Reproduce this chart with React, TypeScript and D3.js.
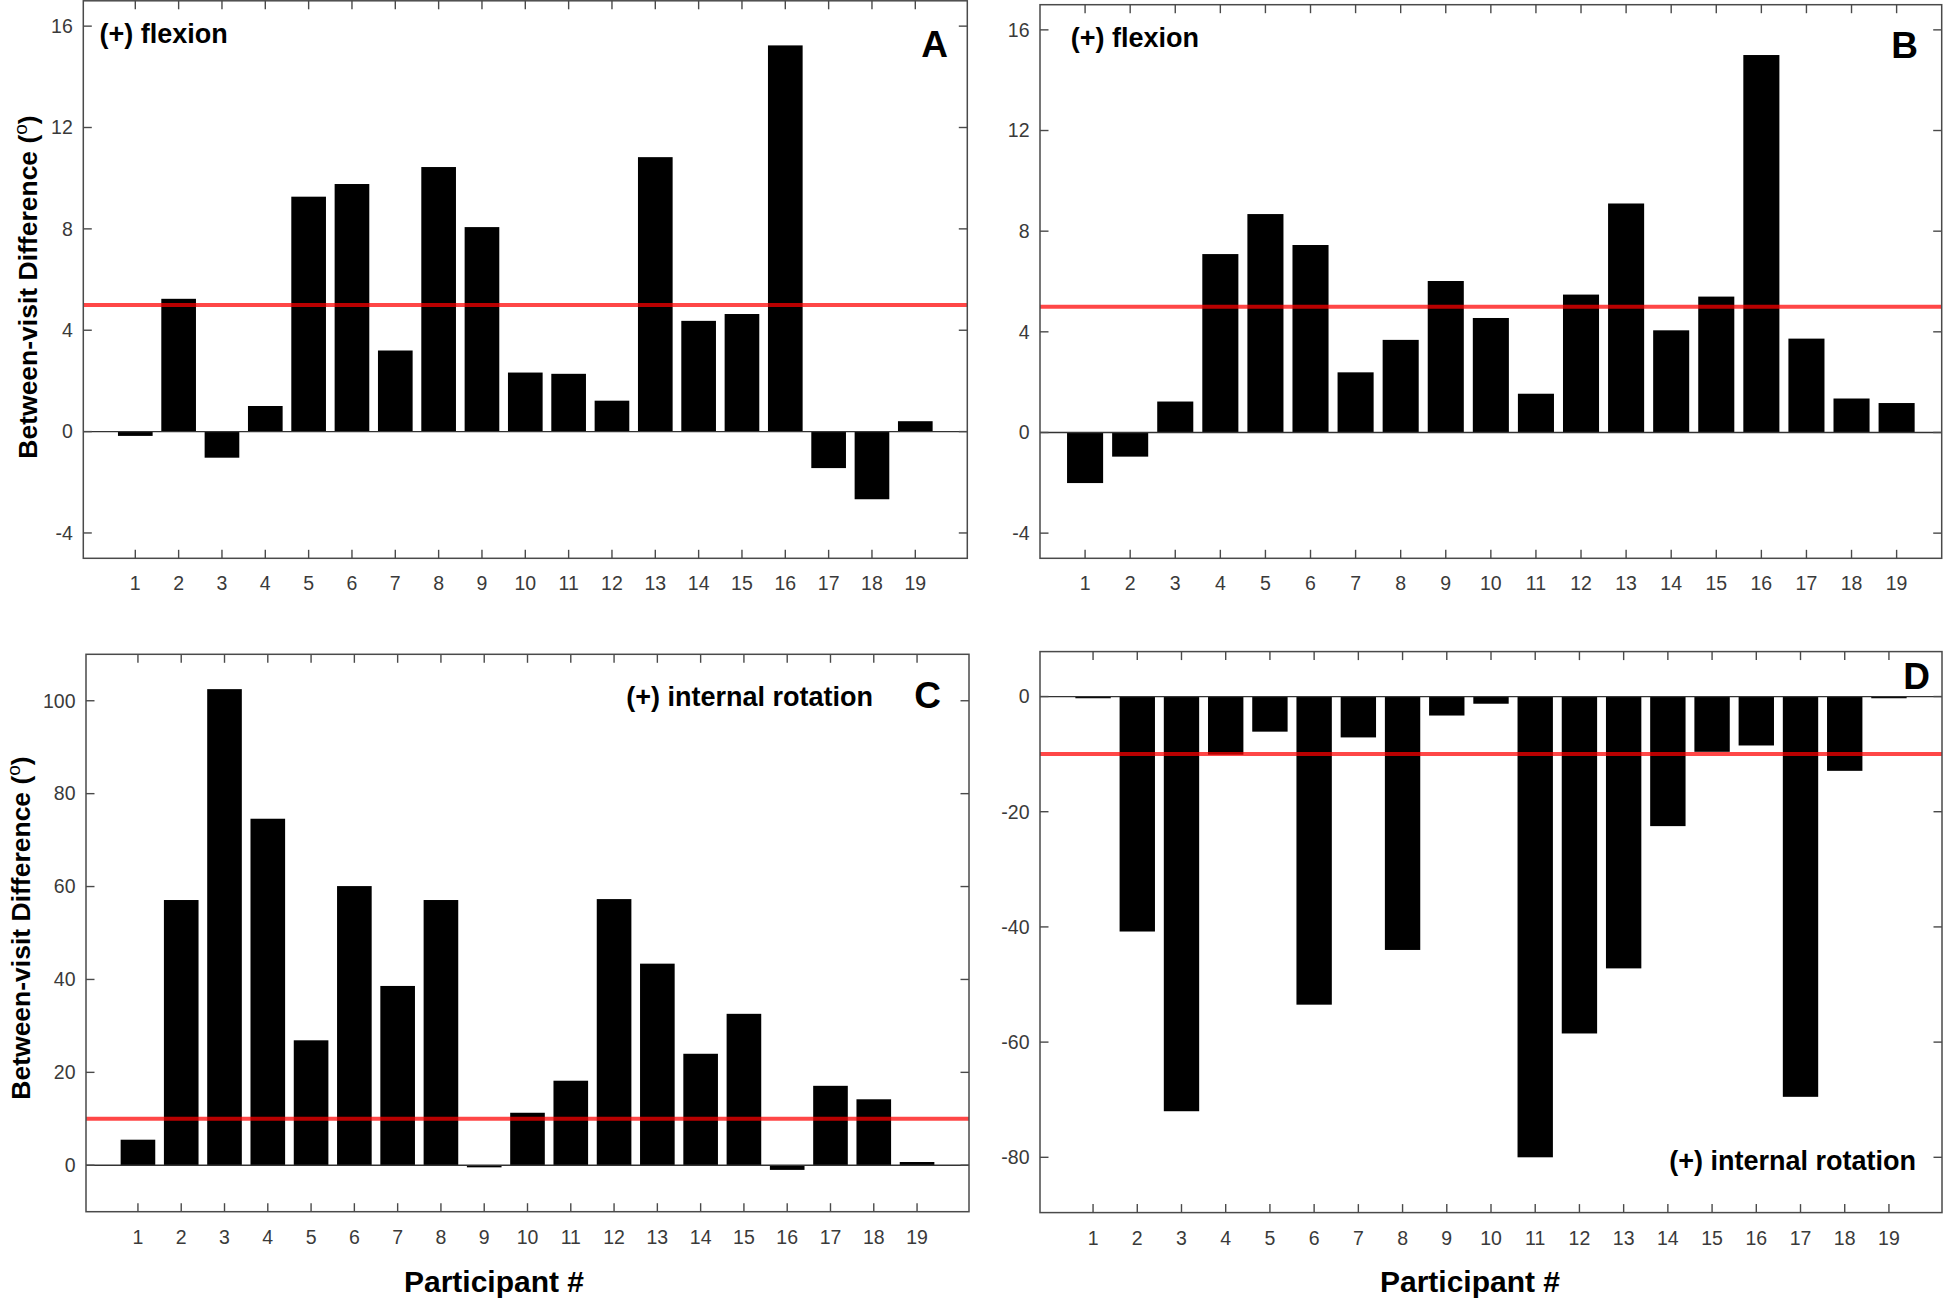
import React from "react";
import * as d3 from "d3";

// participant numbers on the x axis
const participants = [1, 2, 3, 4, 5, 6, 7, 8, 9, 10, 11, 12, 13, 14, 15, 16, 17, 18, 19];

// between-visit differences (degrees)
const flexionA = [-0.17, 5.24, -1.03, 1.01, 9.27, 9.77, 3.2, 10.44, 8.07, 2.33, 2.28, 1.22, 10.83, 4.37, 4.64, 15.24, -1.44, -2.67, 0.41];
const flexionB = [-2.01, -0.96, 1.23, 7.09, 8.68, 7.45, 2.39, 3.68, 6.02, 4.55, 1.54, 5.48, 9.1, 4.06, 5.4, 15.0, 3.73, 1.35, 1.17];
const rotationC = [5.5, 57.1, 102.5, 74.6, 26.9, 60.1, 38.6, 57.1, -0.45, 11.3, 18.2, 57.3, 43.4, 24.0, 32.6, -1.0, 17.1, 14.2, 0.7];
const rotationD = [-0.3, -40.8, -72.0, -10.1, -6.1, -53.5, -7.1, -44.0, -3.3, -1.25, -80.0, -58.5, -47.2, -22.5, -9.6, -8.5, -69.5, -12.9, -0.3];

const flexionTicks = [-4, 0, 4, 8, 12, 16];
const rotationCTicks = [0, 20, 40, 60, 80, 100];
const rotationDTicks = [-80, -60, -40, -20, 0];

const FONT = "'Liberation Sans', Arial, Helvetica, sans-serif";
const AXIS = "#4a4a4a";
const TICKTXT = "#3a3a3a";

type Box = { l: number; r: number; t: number; b: number };

function Panel({ box, xDomain, yDomain, yTicks, values, threshold, letter, letterPos, note, notePos, noteAnchor }: any) {
  const x = d3.scaleLinear().domain(xDomain).range([box.l, box.r]);
  const y = d3.scaleLinear().domain(yDomain).range([box.b, box.t]);
  const bw = (x(2) - x(1)) * 0.8;
  const tick = 8.5;

  return (
    <g>
      {/* bars */}
      {values.map((v: number, i: number) => (
        <rect
          key={i}
          x={x(participants[i]) - bw / 2}
          y={Math.min(y(v), y(0))}
          width={bw}
          height={Math.abs(y(v) - y(0))}
          fill="#000"
        />
      ))}
      {/* baseline */}
      <line x1={box.l} x2={box.r} y1={y(0)} y2={y(0)} stroke="#333" strokeWidth={1.3} />
      {/* threshold */}
      <line x1={box.l} x2={box.r} y1={y(threshold)} y2={y(threshold)} stroke="#ff0000" strokeOpacity={0.72} strokeWidth={4} />
      {/* box */}
      <rect x={box.l} y={box.t} width={box.r - box.l} height={box.b - box.t} fill="none" stroke={AXIS} strokeWidth={1.5} />
      {/* y ticks */}
      {yTicks.map((t: number) => (
        <g key={t}>
          <line x1={box.l} x2={box.l + tick} y1={y(t)} y2={y(t)} stroke={AXIS} strokeWidth={1.4} />
          <line x1={box.r} x2={box.r - tick} y1={y(t)} y2={y(t)} stroke={AXIS} strokeWidth={1.4} />
          <text x={box.l - 10.5} y={y(t)} dy="0.35em" textAnchor="end" fontSize={19.5} fontFamily={FONT} fill={TICKTXT}>
            {t}
          </text>
        </g>
      ))}
      {/* x ticks */}
      {participants.map((p) => (
        <g key={p}>
          <line x1={x(p)} x2={x(p)} y1={box.b} y2={box.b - tick} stroke={AXIS} strokeWidth={1.4} />
          <line x1={x(p)} x2={x(p)} y1={box.t} y2={box.t + tick} stroke={AXIS} strokeWidth={1.4} />
          <text x={x(p)} y={box.b + 32} textAnchor="middle" fontSize={19.5} fontFamily={FONT} fill={TICKTXT}>
            {p}
          </text>
        </g>
      ))}
      <text x={notePos[0]} y={notePos[1]} textAnchor={noteAnchor} fontSize={27} fontWeight="bold" fontFamily={FONT} fill="#000">
        {note}
      </text>
      <text x={letterPos[0]} y={letterPos[1]} textAnchor="end" fontSize={37} fontWeight="bold" fontFamily={FONT} fill="#000">
        {letter}
      </text>
    </g>
  );
}

function YLabel({ cx, cy }: { cx: number; cy: number }) {
  return (
    <text
      transform={`translate(${cx},${cy}) rotate(-90)`}
      textAnchor="middle"
      fontSize={26.5}
      fontWeight="bold"
      fontFamily={FONT}
      fill="#000"
    >
      Between-visit Difference (
      <tspan fontSize={19} fontWeight="normal" dy={-10}>o</tspan>
      <tspan dy={10}>)</tspan>
    </text>
  );
}

function XLabel({ cx, y }: { cx: number; y: number }) {
  return (
    <text x={cx} y={y} textAnchor="middle" fontSize={30} fontWeight="bold" fontFamily={FONT} fill="#000">
      Participant #
    </text>
  );
}

export default function App() {
  const boxA: Box = { l: 83.3, r: 967.3, t: 0.8, b: 558.3 };
  const boxB: Box = { l: 1040, r: 1941.7, t: 4.7, b: 558.3 };
  const boxC: Box = { l: 86, r: 969, t: 654.3, b: 1211.7 };
  const boxD: Box = { l: 1040, r: 1942, t: 651.6, b: 1212.6 };

  return (
    <svg width={1944} height={1301} style={{ position: "absolute", left: 0, top: 0, background: "#fff" }}>
      <rect width={1944} height={1301} fill="#fff" />
      <Panel
        box={boxA} xDomain={[-0.2, 20.2]} yDomain={[-5, 17]} yTicks={flexionTicks}
        values={flexionA} threshold={5}
        letter="A" letterPos={[948, 56.7]}
        note="(+) flexion" notePos={[99.5, 43]} noteAnchor="start"
      />
      <Panel
        box={boxB} xDomain={[0, 20]} yDomain={[-5, 17]} yTicks={flexionTicks}
        values={flexionB} threshold={5}
        letter="B" letterPos={[1918, 58.3]}
        note="(+) flexion" notePos={[1070.7, 47]} noteAnchor="start"
      />
      <Panel
        box={boxC} xDomain={[-0.2, 20.2]} yDomain={[-10, 110]} yTicks={rotationCTicks}
        values={rotationC} threshold={10}
        letter="C" letterPos={[941, 708]}
        note="(+) internal rotation" notePos={[873, 706]} noteAnchor="end"
      />
      <Panel
        box={boxD} xDomain={[-0.2, 20.2]} yDomain={[-89.6, 7.8]} yTicks={rotationDTicks}
        values={rotationD} threshold={-10}
        letter="D" letterPos={[1930, 689]}
        note="(+) internal rotation" notePos={[1916, 1170]} noteAnchor="end"
      />
      <YLabel cx={36.5} cy={287} />
      <YLabel cx={30} cy={928} />
      <XLabel cx={494} y={1292} />
      <XLabel cx={1470} y={1292} />
    </svg>
  );
}
